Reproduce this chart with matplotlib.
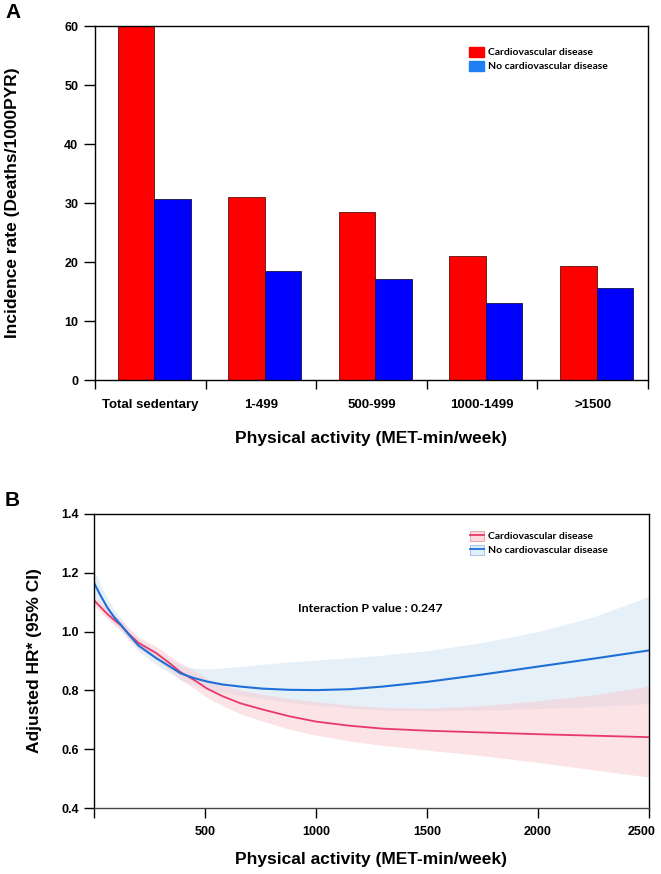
import numpy as np
import matplotlib
matplotlib.use("Agg")
import matplotlib.pyplot as plt
import matplotlib.transforms as mtransforms
from matplotlib.patches import Patch
from matplotlib.lines import Line2D

# panel A: incidence rate by physical activity group
categories = ["Total sedentary", "1-499", "500-999", "1000-1499", ">1500"]
cvd_rate = [60.0, 31.1, 28.4, 21.1, 19.3]
no_cvd_rate = [30.6, 18.4, 17.1, 13.0, 15.6]

# panel B: adjusted HR curves
met = [0, 30, 60, 90, 120, 160, 200, 280, 340, 390, 450, 510, 580, 660, 760, 880,
       1000, 1150, 1300, 1500, 1750, 2000, 2250, 2500]
hr_no_cvd = [1.166, 1.122, 1.082, 1.050, 1.024, 0.987, 0.953, 0.910, 0.882, 0.858, 0.842, 0.830,
             0.820, 0.813, 0.806, 0.802, 0.801, 0.804, 0.813, 0.829, 0.854, 0.881, 0.908, 0.936]
hr_no_cvd_lo = [1.13, 1.09, 1.055, 1.028, 1.005, 0.97, 0.933, 0.887, 0.86, 0.838, 0.818, 0.803,
                0.793, 0.783, 0.772, 0.76, 0.75, 0.74, 0.733, 0.730, 0.733, 0.738, 0.745, 0.755]
hr_no_cvd_hi = [1.21, 1.16, 1.115, 1.075, 1.045, 1.005, 0.975, 0.935, 0.907, 0.885, 0.876, 0.873,
                0.876, 0.882, 0.889, 0.897, 0.903, 0.911, 0.920, 0.935, 0.963, 1.0, 1.05, 1.12]
hr_cvd = [1.107, 1.083, 1.060, 1.040, 1.022, 0.990, 0.962, 0.927, 0.893, 0.862, 0.836, 0.806,
          0.780, 0.756, 0.735, 0.712, 0.694, 0.680, 0.670, 0.663, 0.657, 0.651, 0.646, 0.641]
hr_cvd_lo = [1.09, 1.066, 1.043, 1.022, 1.005, 0.97, 0.942, 0.905, 0.87, 0.835, 0.808, 0.775,
             0.748, 0.72, 0.695, 0.668, 0.648, 0.628, 0.613, 0.597, 0.578, 0.555, 0.53, 0.505]
hr_cvd_hi = [1.125, 1.10, 1.077, 1.058, 1.04, 1.01, 0.982, 0.95, 0.918, 0.892, 0.868, 0.84,
             0.817, 0.80, 0.787, 0.773, 0.762, 0.75, 0.742, 0.74, 0.748, 0.765, 0.785, 0.815]

plt.rcParams['font.family'] = ['Liberation Sans', 'DejaVu Sans']
plt.rcParams['font.weight'] = 'bold'
small_font = {'family': ['Lato', 'DejaVu Sans'], 'weight': 'bold', 'size': 7.5}

fig = plt.figure(figsize=(6.61, 8.74), dpi=100)

# ---- panel A ----
ax1 = fig.add_axes([0.1437, 0.5652, 0.8366, 0.405])
x = np.arange(len(categories))
ax1.bar(x - 0.13, cvd_rate, width=0.33, color='#ff0000', edgecolor='#5a1010', linewidth=0.6)
ax1.bar(x + 0.20, no_cvd_rate, width=0.33, color='#0000ff', edgecolor='#101050', linewidth=0.6)
ax1.set_xlim(-0.5, len(categories) - 0.5)
ax1.set_ylim(0, 60)
ax1.set_yticks(range(0, 61, 10))
ax1.set_xticks(np.arange(len(categories) + 1) - 0.5)
ax1.set_xticklabels([])
ax1.set_xticks(x + 0.0, minor=True)
ax1.set_xticklabels(categories, minor=True, fontsize=9.5, fontweight='bold')
ax1.tick_params(axis='x', which='major', direction='out', length=6.5, width=1)
ax1.tick_params(axis='x', which='minor', length=0, pad=14)
ax1.tick_params(axis='y', direction='out', length=8, width=1, labelsize=9, pad=4)
for s in ax1.spines.values():
    s.set_linewidth(1)
ax1.set_ylabel("Incidence rate (Deaths/1000PYR)", fontsize=12.5, fontweight='bold', labelpad=32)
ax1.set_xlabel("Physical activity (MET-min/week)", fontsize=12.5, fontweight='bold', labelpad=14)
ax1.legend(handles=[Patch(facecolor='#ff0000', edgecolor='#ff0000'),
                    Patch(facecolor='#1e7ff5', edgecolor='#1e7ff5')],
           labels=["Cardiovascular disease", "No cardiovascular disease"],
           loc='upper left', bbox_to_anchor=(0.66, 0.968), frameon=False,
           handlelength=1.4, handleheight=1.1, handletextpad=0.4, labelspacing=0.35,
           prop=small_font)
fig.text(0.02, 0.986, "A", fontsize=15, fontweight='bold', va='center', ha='center')

# ---- panel B ----
ax2 = fig.add_axes([0.1422, 0.0755, 0.8396, 0.3364])
ax2.fill_between(met, hr_no_cvd_lo, hr_no_cvd_hi, color='#cfe2f5', alpha=0.5, linewidth=0)
ax2.fill_between(met, hr_cvd_lo, hr_cvd_hi, color='#f8c9cf', alpha=0.5, linewidth=0)
ax2.plot(met, hr_cvd, color='#e8386a', lw=1.3)
ax2.plot(met, hr_no_cvd, color='#1f6fd8', lw=1.5)
ax2.set_xlim(0, 2500)
ax2.set_ylim(0.4, 1.4)
ax2.set_yticks(np.arange(0.4, 1.41, 0.2))
ax2.set_yticklabels(["0.4", "0.6", "0.8", "1.0", "1.2", "1.4"])
ax2.set_xticks([0, 500, 1000, 1500, 2000, 2500])
ax2.set_xticklabels(["", "500", "1000", "1500", "2000", "2500"])
ax2.tick_params(direction='out', length=7, width=1, labelsize=9)
ax2.tick_params(axis='x', pad=6)
ax2.tick_params(axis='y', pad=4)
# last tick label sits at the figure edge, nudge it inward a little
last = ax2.get_xticklabels()[-1]
last.set_transform(last.get_transform() + mtransforms.ScaledTranslation(-5 / 72, 0, fig.dpi_scale_trans))
for s in ax2.spines.values():
    s.set_linewidth(1)
ax2.spines['bottom'].set_color('#444444')
ax2.set_ylabel("Adjusted HR* (95% CI)", fontsize=12.5, fontweight='bold', labelpad=14)
ax2.set_xlabel("Physical activity (MET-min/week)", fontsize=12.5, fontweight='bold', labelpad=10)
ax2.text(1245, 1.08, "Interaction P value : 0.247", ha='center', va='center',
         fontdict=dict(small_font, size=8.9))
h_cvd = (Patch(facecolor='#fbdde1', edgecolor='#e9a9b3', lw=0.8), Line2D([], [], color='#e8386a', lw=1.3))
h_no = (Patch(facecolor='#e2eefa', edgecolor='#a9c8ea', lw=0.8), Line2D([], [], color='#1f6fd8', lw=1.3))
ax2.legend(handles=[h_cvd, h_no], labels=["Cardiovascular disease", "No cardiovascular disease"],
           loc='upper left', bbox_to_anchor=(0.66, 0.975), frameon=False,
           handlelength=1.4, handleheight=1.1, handletextpad=0.4, labelspacing=0.35,
           prop=small_font)
fig.text(0.018, 0.427, "B", fontsize=15, fontweight='bold', va='center', ha='center')

fig.savefig("out.png", dpi=100)
